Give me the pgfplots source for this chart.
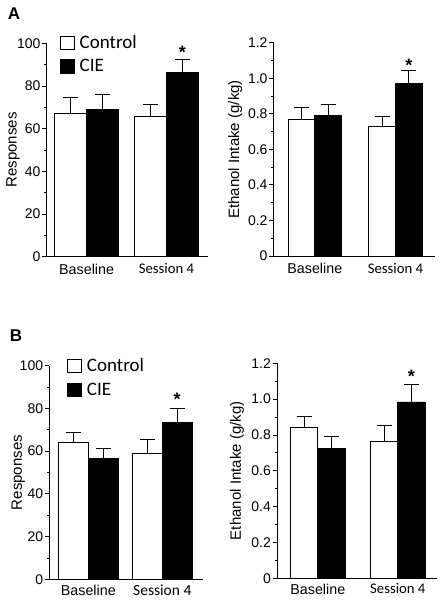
\documentclass[border=0pt]{standalone}
\usepackage{fontspec}
\setmainfont{Liberation Sans}
\newfontfamily\calfont{Carlito}
\usepackage{pgfplots}
\pgfplotsset{compat=1.18}
\pgfplotsset{
  panel/.style={
    scale only axis,
    anchor=south west,
    axis lines=left,
    every inner x axis line/.append style={-},
    every outer x axis line/.append style={-},
    every inner y axis line/.append style={-},
    every outer y axis line/.append style={-},
    axis line style={line width=0.9pt, black},
    tick align=outside,
    major tick length=4.5pt,
    minor tick length=2.5pt,
    tick style={line width=0.8pt, black},
    xtick={1,2},
    xtick style={draw=none},
    xticklabels={{\fontsize{14.3}{14.3}\selectfont Baseline},{\calfont\fontsize{14.7}{14.7}\selectfont Session 4}},
    xticklabel style={inner sep=0.8pt, yshift=-1.5pt},
    yticklabel style={font=\fontsize{14}{14}\selectfont, inner sep=1.5pt},
    /pgf/number format/assume math mode=true,
    minor y tick num=1,
    ymin=0,
    clip=false,
  },
  ylab/.style={every axis y label/.style={at={(axis description cs:#1,0.5)}, rotate=90, anchor=center, font=\fontsize{15}{15}\selectfont}},
  ctrl/.style={ybar, bar shift=0pt, fill=white, draw=black, line width=0.9pt,
    error bars/.cd, y dir=plus, y explicit,
    error bar style={line width=0.9pt, black},
    error mark options={rotate=90, mark size=7.5pt, line width=0.9pt, black}},
  cie/.style={ybar, bar shift=0pt, fill=black, draw=black, line width=0.9pt,
    error bars/.cd, y dir=plus, y explicit,
    error bar style={line width=0.9pt, black},
    error mark options={rotate=90, mark size=7.5pt, line width=0.9pt, black}},
  leg/.style={
    legend cell align=left,
    legend image code/.code={\draw[line width=0.8pt] (0.4pt,-6.6pt) rectangle (14pt,6.6pt); \path[draw=none, fill=none] (0,0) -- (19.5pt,0);},
    legend style={draw=none, fill=none, inner sep=0pt, anchor=north west,
      font=\calfont\fontsize{19}{19}\selectfont, row sep=9.5pt,
      nodes={inner sep=0pt},
      /tikz/every even column/.append style={column sep=0pt}},
  },
}
\begin{document}
\begin{tikzpicture}[x=1pt,y=1pt]
\useasboundingbox (0,0) rectangle (444,600);
\node[font=\bfseries\fontsize{17}{17}\selectfont] at (14,586) {A};
\node[font=\bfseries\fontsize{17}{17}\selectfont] at (16,264) {B};

% A left
\begin{axis}[panel, leg, ylab=-0.209, at={(46.7pt,343.3pt)}, width=161.3pt, height=213.4pt,
  xmin=0.5, xmax=2.52, ymax=100, ytick={0,20,40,60,80,100},
  ylabel={Responses},
  legend style={at={(0.0825,1.039)}}]
\addplot[bar width=0.4, ctrl] coordinates {(0.8,67.2) +- (0,7.5) (1.8,65.9) +- (0,5.5)};
\addlegendentry{Control}
\addplot[bar width=0.4, cie] coordinates {(1.2,68.9) +- (0,7.0) (2.2,86.2) +- (0,6.3)};
\addlegendentry{CIE}
\node[font=\bfseries\fontsize{18}{18}\selectfont, anchor=north, inner sep=0pt] at (axis cs:2.2,98.7) {*};
\end{axis}

% A right
\begin{axis}[panel, ylab=-0.238, at={(273.7pt,344pt)}, width=161.3pt, height=213.3pt,
  xmin=0.49, xmax=2.49, ymax=1.2, ytick={0,0.2,0.4,0.6,0.8,1.0,1.2},
  yticklabels={0,0.2,0.4,0.6,0.8,1.0,1.2},
  ylabel={Ethanol Intake (g/kg)}]
\addplot[bar width=0.33, ctrl] coordinates {(0.835,0.771) +- (0,0.062) (1.835,0.731) +- (0,0.053)};
\addplot[bar width=0.33, cie] coordinates {(1.165,0.788) +- (0,0.065) (2.165,0.968) +- (0,0.075)};
\node[font=\bfseries\fontsize{18}{18}\selectfont, anchor=north, inner sep=0pt] at (axis cs:2.165,1.107) {*};
\end{axis}

% B left
\begin{axis}[panel, leg, ylab=-0.202, at={(49.3pt,20.7pt)}, width=153.4pt, height=213.6pt,
  xmin=0.473, xmax=2.546, ymax=100, ytick={0,20,40,60,80,100},
  xticklabels={{\fontsize{14.3}{14.3}\selectfont Baseline},{\calfont\fontsize{15.5}{15.5}\selectfont Session 4}},
  xticklabel style={yshift=1.5pt},
  ylabel={Responses},
  legend style={at={(0.117,1.035)}}]
\addplot[bar width=0.405, ctrl] coordinates {(0.8,64.1) +- (0,4.5) (1.8,59.0) +- (0,6.7)};
\addlegendentry{Control}
\addplot[bar width=0.405, cie] coordinates {(1.2,56.5) +- (0,4.7) (2.2,73.2) +- (0,6.8)};
\addlegendentry{CIE}
\node[font=\bfseries\fontsize{18}{18}\selectfont, anchor=north, inner sep=0pt] at (axis cs:2.2,87.1) {*};
\end{axis}

% B right
\begin{axis}[panel, ylab=-0.25, at={(277pt,21.7pt)}, width=160pt, height=215pt,
  xmin=0.49, xmax=2.49, ymax=1.2, ytick={0,0.2,0.4,0.6,0.8,1.0,1.2},
  yticklabels={0,0.2,0.4,0.6,0.8,1.0,1.2},
  xticklabel style={yshift=1.5pt},
  ylabel={Ethanol Intake (g/kg)}]
\addplot[bar width=0.34, ctrl] coordinates {(0.83,0.843) +- (0,0.059) (1.83,0.763) +- (0,0.089)};
\addplot[bar width=0.34, cie] coordinates {(1.17,0.724) +- (0,0.069) (2.17,0.984) +- (0,0.099)};
\node[font=\bfseries\fontsize{18}{18}\selectfont, anchor=north, inner sep=0pt] at (axis cs:2.17,1.162) {*};
\end{axis}
\end{tikzpicture}
\end{document}
